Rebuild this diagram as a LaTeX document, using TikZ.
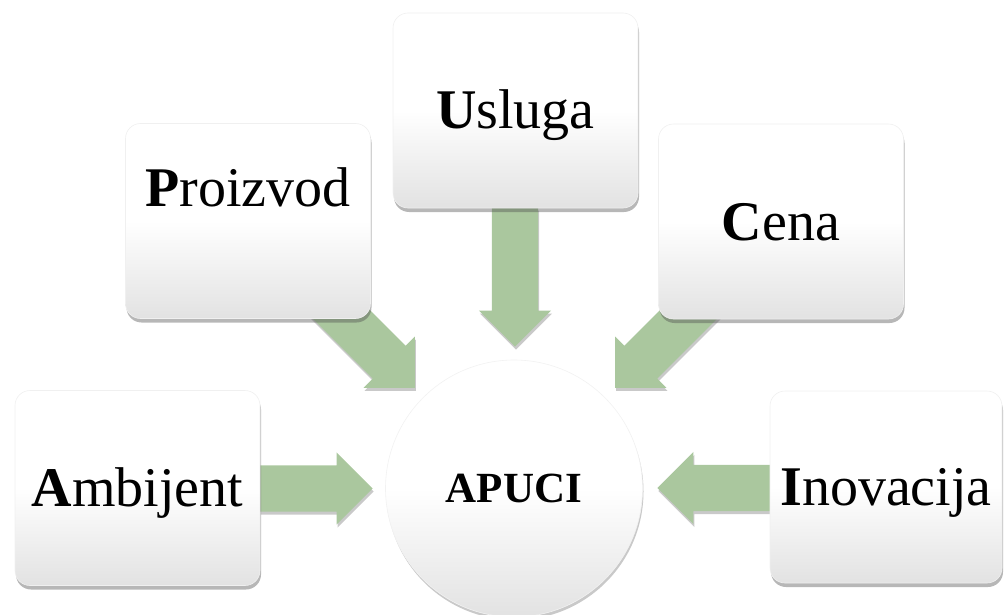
\documentclass[tikz,border=0pt]{standalone}
\usepackage{fontspec}
\setmainfont{Liberation Serif}
\usetikzlibrary{shapes.arrows,shadows}
\definecolor{arrowgreen}{HTML}{AAC79E}
\definecolor{cardbottom}{HTML}{E2E2E2}
\tikzset{
  card/.style={rectangle, rounded corners=15pt, minimum width=245pt, minimum height=195pt,
    inner sep=0pt, top color=white, bottom color=cardbottom, middle color=white,
    draw=black!6, line width=0.6pt,
    drop shadow={shadow xshift=1pt, shadow yshift=-4pt, opacity=0.4, fill=black!70},
    font=\fontsize{56}{60}\selectfont},
  hub/.style={circle, minimum size=257pt, inner sep=0pt, top color=white, bottom color=cardbottom,
    middle color=white, draw=black!5, line width=0.6pt,
    drop shadow={shadow xshift=1pt, shadow yshift=-3pt, opacity=0.3, fill=black!70},
    font=\fontsize{43}{46}\selectfont\bfseries},
  blockarrow/.style={single arrow, single arrow head extend=13pt,
    text height=23pt, text depth=23pt, text width=0pt,
    inner sep=0pt, fill=arrowgreen, anchor=tip,
    drop shadow={shadow xshift=1pt, shadow yshift=-3pt, opacity=0.3, fill=black!70}}
}
\newcommand{\cardlabel}[2][-18.5pt]{\raisebox{#1}[0pt][0pt]{#2}}
\begin{document}
\begin{tikzpicture}[x=1pt,y=-1pt]
  \useasboundingbox (0,0) rectangle (1004,615);
  % block arrows (placed by their tips)
  \node[blockarrow, minimum height=113pt] (arrA) at (373,488.5) {};
  \node[blockarrow, minimum height=113pt, rotate=180] (arrI) at (657,488) {};
  \node[blockarrow, minimum height=139pt, rotate=-90] (arrU) at (515,347) {};
  \node[blockarrow, minimum height=125pt, rotate=-45] (arrP) at (415,388) {};
  \node[blockarrow, minimum height=125pt, rotate=-135] (arrC) at (615,388) {};
  % cards
  \node[card] (usluga) at (515.5,110.5) {\cardlabel{\textbf{U}sluga}};
  \node[card] (proizvod) at (248,221) {\cardlabel[14.5pt]{\textbf{P}roizvod}};
  \node[card] (cena) at (781,221.5) {\cardlabel{\textbf{C}ena}};
  \node[card] (ambijent) at (137.5,488) {\cardlabel{\textbf{A}mbijent}};
  \node[card, minimum width=232pt, minimum height=192pt] (inovacija) at (886,487) {\cardlabel{\textbf{I}novacija}};
  % hub
  \node[hub] (apuci) at (514,488.5) {\cardlabel[-14pt]{APUCI}};
\end{tikzpicture}
\end{document}
